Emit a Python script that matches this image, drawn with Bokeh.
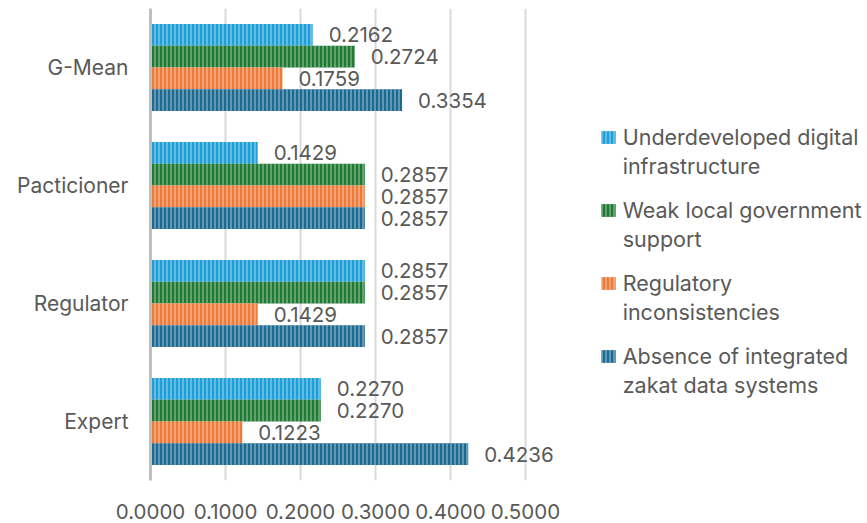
from bokeh.plotting import figure
from bokeh.models import (FactorRange, Range1d, FixedTicker, NumeralTickFormatter,
                          ColumnDataSource, Legend, LegendItem)
from bokeh.transform import dodge
from bokeh.core.properties import value
from bokeh.embed import file_html
from bokeh.resources import INLINE

# Groups, listed bottom to top on the vertical axis
categories = ["Expert", "Regulator", "Pacticioner", "G-Mean"]

# One value per group for each barrier
underdeveloped_digital = [0.2270, 0.2857, 0.1429, 0.2162]
weak_local_government = [0.2270, 0.2857, 0.2857, 0.2724]
regulatory_inconsistency = [0.1223, 0.1429, 0.2857, 0.1759]
absence_integrated_data = [0.4236, 0.2857, 0.2857, 0.3354]

# Legend names, split over two lines
series_line1 = ["Underdeveloped digital", "Weak local government",
                "Regulatory", "Absence of integrated"]
series_line2 = ["infrastructure", "support",
                "inconsistencies", "zakat data systems"]
x_ticks = [0.0, 0.1, 0.2, 0.3, 0.4, 0.5]

FONT = "Inter"
TEXT = "#595959"
colors = ["#1E9FD9", "#1F7A32", "#EE7A39", "#1C6A92"]
offsets = [0.276, 0.092, -0.092, -0.276]
bar_h = 0.184

W, H = 867, 523
LEFT, TOP, BOTTOM = 150, 8, 43
px_per_unit = 750.0

p = figure(width=W, height=H, output_backend="svg", toolbar_location=None,
           y_range=FactorRange(factors=categories, range_padding=0),
           x_range=Range1d(0, (W - LEFT) / px_per_unit),
           min_border_left=LEFT, min_border_right=0,
           min_border_top=TOP, min_border_bottom=BOTTOM)
p.outline_line_color = None
p.background_fill_color = "white"
p.border_fill_color = "white"

p.xaxis.ticker = FixedTicker(ticks=x_ticks)
p.xaxis.formatter = NumeralTickFormatter(format="0.0000")
p.xaxis.axis_line_color = None
p.xaxis.major_tick_line_color = None
p.xaxis.minor_tick_line_color = None
p.xaxis.major_tick_out = 0
p.xaxis.major_label_standoff = 23
p.xaxis.major_label_text_font = FONT
p.xaxis.major_label_text_font_size = "20.5px"
p.xaxis.major_label_text_color = TEXT

p.yaxis.axis_line_color = "#BFBFBF"
p.yaxis.axis_line_width = 3
p.yaxis.major_tick_line_color = None
p.yaxis.minor_tick_line_color = None
p.yaxis.major_tick_out = 0
p.yaxis.major_label_standoff = 22
p.yaxis.major_label_text_font = FONT
p.yaxis.major_label_text_font_size = "21px"
p.yaxis.major_label_text_color = TEXT

p.xgrid.ticker = FixedTicker(ticks=x_ticks)
p.xgrid.grid_line_color = "#D9D9D9"
p.xgrid.grid_line_width = 2
p.ygrid.grid_line_color = None

src = ColumnDataSource(data=dict(
    cat=categories,
    s0=underdeveloped_digital,
    s1=weak_local_government,
    s2=regulatory_inconsistency,
    s3=absence_integrated_data,
    t0=[f"{v:.4f}" for v in underdeveloped_digital],
    t1=[f"{v:.4f}" for v in weak_local_government],
    t2=[f"{v:.4f}" for v in regulatory_inconsistency],
    t3=[f"{v:.4f}" for v in absence_integrated_data],
))

first_items, second_items = [], []
for i, (col, off) in enumerate(zip(colors, offsets)):
    y = dodge("cat", off, range=p.y_range)
    r = p.hbar(y=y, right=f"s{i}", left=0, height=bar_h, source=src,
               fill_color=col, line_color=None,
               hatch_pattern="|", hatch_color="white", hatch_alpha=0.4,
               hatch_scale=4, hatch_weight=1.5)
    p.text(x=f"s{i}", y=y, text=f"t{i}", source=src, x_offset=16,
           text_font=value(FONT), text_font_size="20.5px", text_color=TEXT,
           text_baseline="middle", text_align="left")
    first_items.append(LegendItem(label=series_line1[i], renderers=[r]))
    second_items.append(LegendItem(label=series_line2[i], renderers=[r]))

common = dict(border_line_color=None, background_fill_alpha=0,
              padding=0, margin=0, label_text_font=FONT,
              label_text_font_size="21.5px", label_text_color=TEXT)

# first line of each entry carries the colour swatch
legend_top = Legend(items=first_items, location=(448.7, 111), spacing=47,
                    glyph_width=18, glyph_height=16, label_standoff=6,
                    **common)
# continuation line, indented to the label column, no swatch
legend_cont = Legend(items=second_items, location=(448.7 + 18 + 6, 82),
                     spacing=47, glyph_width=0, glyph_height=16,
                     label_standoff=0, **common)
p.add_layout(legend_top)
p.add_layout(legend_cont)

open("out.html", "w").write(file_html(p, INLINE))
